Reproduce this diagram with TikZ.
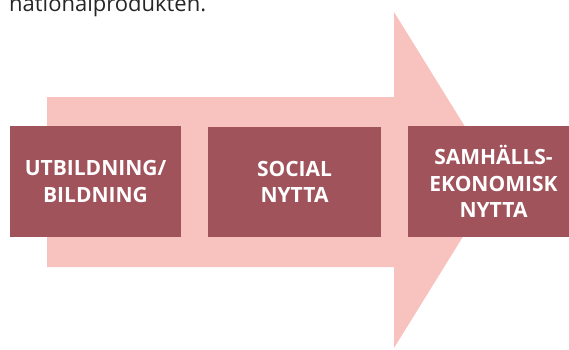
\documentclass[tikz,border=0pt]{standalone}
\usepackage{fontspec}
\setmainfont{Open Sans}
\usetikzlibrary{calc}
\definecolor{arrowpink}{RGB}{248,194,190}
\definecolor{boxred}{RGB}{161,83,92}
\tikzset{
  stagebox/.style={fill=boxred,text=white,align=center,inner sep=0pt,
    minimum width=171pt,minimum height=111pt,
    font=\bfseries\fontsize{21}{26.5}\selectfont}
}

\begin{document}
\begin{tikzpicture}[x=1pt,y=-1pt]
\useasboundingbox (0,0) rectangle (569,349);

\node[anchor=base west,inner sep=0pt,text=black!85,
  font=\fontsize{22}{26}\selectfont] (caption) at (9,11) {nationalprodukten.};

% the big arrow
\fill[arrowpink]
  (47,97) coordinate (A) --
  (394,97) coordinate (B) --
  (394,12) coordinate (C) --
  (498,180) coordinate (T) --
  (394,348) coordinate (D) --
  (394,267) coordinate (E) --
  (47,267) coordinate (F) -- cycle;

\node[stagebox] (utb) at (95.5,181.5) {UTBILDNING/\\BILDNING};
\node[stagebox,minimum width=173pt,minimum height=110pt] (social) at (294.5,182) {SOCIAL\\NYTTA};
\node[stagebox] (samh) at (493.5,181.5) {SAMHÄLLS-\\EKONOMISK\\NYTTA};

\end{tikzpicture}
\end{document}
